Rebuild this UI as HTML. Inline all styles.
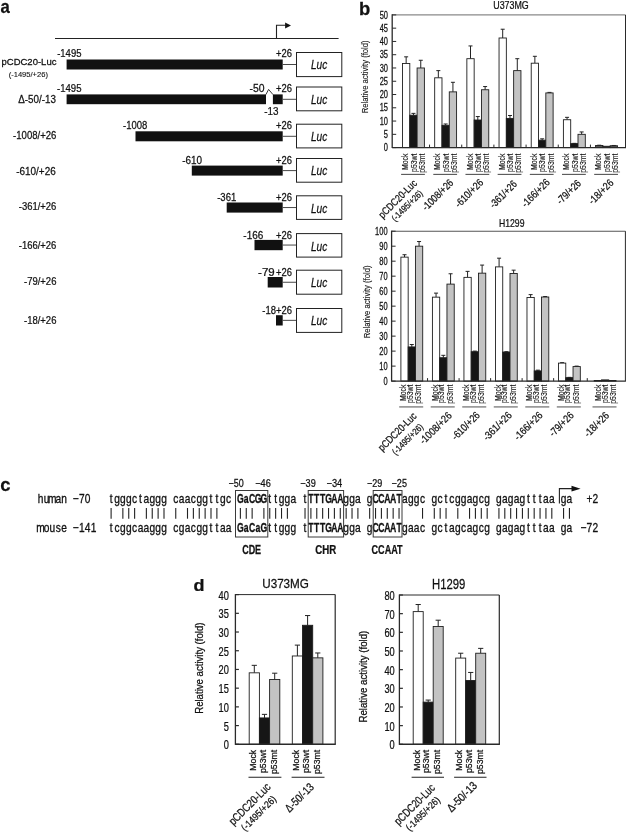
<!DOCTYPE html>
<html><head><meta charset="utf-8"><style>
html,body{margin:0;padding:0;background:#fff;}
svg{display:block;will-change:transform;filter:blur(0.35px);}
text{font-family:"Liberation Sans", sans-serif;fill:#111;stroke:#111;stroke-width:0.25px;}
</style></head><body>
<svg width="627" height="833" viewBox="0 0 627 833">
<rect width="627" height="833" fill="#fff"/>
<text transform="translate(0.50,12.60) scale(0.918,1)" font-size="18.2" font-weight="bold">a</text>
<text transform="translate(359.00,14.60) scale(1.046,1)" font-size="17.6" font-weight="bold">b</text>
<text transform="translate(0.26,490.60) scale(0.977,1)" font-size="18.9" font-weight="bold">c</text>
<text transform="translate(193.58,591.40) scale(1.112,1)" font-size="16.2" font-weight="bold">d</text>
<line x1="55.00" y1="38.50" x2="338.60" y2="38.50" stroke="#222" stroke-width="1.1"/>
<path d="M276.5,38.5 V25.3 H286.5" stroke="#222" stroke-width="1.1" fill="none"/>
<polygon points="285.10,22.40 291.00,25.40 285.10,28.60" fill="#111"/>
<rect x="66.60" y="59.50" width="216.10" height="10.00" fill="#111"/>
<line x1="282.70" y1="64.50" x2="296.50" y2="64.50" stroke="#333" stroke-width="0.9"/>
<rect x="296.50" y="52.50" width="45.30" height="24.10" fill="#fff" stroke="#222" stroke-width="1"/>
<text transform="translate(311.00,69.40) scale(0.815,1)" font-size="12.4" font-style="italic">Luc</text>
<text transform="translate(276.05,56.75) scale(0.833,1)" font-size="11.3">+26</text>
<text transform="translate(57.17,56.75) scale(0.841,1)" font-size="11.3">-1495</text>
<text transform="translate(1.48,64.70) scale(0.991,1)" font-size="9.6">pCDC20-Luc</text>
<text transform="translate(8.63,76.60) scale(0.998,1)" font-size="7.6" style="stroke-width:0.1px">(-1495/+26)</text>
<rect x="66.60" y="94.40" width="199.40" height="9.80" fill="#111"/>
<rect x="272.90" y="94.40" width="9.80" height="9.80" fill="#111"/>
<path d="M265.9,94.60 L268.6,89.40 L273.0,94.60" stroke="#222" stroke-width="0.9" fill="none"/>
<text transform="translate(249.53,92.10) scale(0.922,1)" font-size="11.3">-50</text>
<text transform="translate(264.16,115.40) scale(0.874,1)" font-size="11.3">-13</text>
<line x1="282.70" y1="99.30" x2="296.50" y2="99.30" stroke="#333" stroke-width="0.9"/>
<rect x="296.50" y="87.00" width="45.30" height="23.80" fill="#fff" stroke="#222" stroke-width="1"/>
<text transform="translate(311.00,103.90) scale(0.815,1)" font-size="12.4" font-style="italic">Luc</text>
<text transform="translate(276.05,92.00) scale(0.833,1)" font-size="11.3">+26</text>
<text transform="translate(56.97,92.00) scale(0.848,1)" font-size="11.3">-1495</text>
<text transform="translate(18.31,102.80) scale(0.892,1)" font-size="11.0">Δ-50/-13</text>
<rect x="135.50" y="131.30" width="147.20" height="10.00" fill="#111"/>
<line x1="282.70" y1="136.30" x2="296.50" y2="136.30" stroke="#333" stroke-width="0.9"/>
<rect x="296.50" y="124.20" width="45.30" height="23.70" fill="#fff" stroke="#222" stroke-width="1"/>
<text transform="translate(311.00,141.10) scale(0.815,1)" font-size="12.4" font-style="italic">Luc</text>
<text transform="translate(276.05,128.70) scale(0.833,1)" font-size="11.3">+26</text>
<text transform="translate(123.07,128.70) scale(0.842,1)" font-size="11.3">-1008</text>
<text transform="translate(13.07,139.10) scale(0.870,1)" font-size="11.0">-1008/+26</text>
<rect x="191.80" y="165.60" width="90.90" height="10.00" fill="#111"/>
<line x1="282.70" y1="170.60" x2="296.50" y2="170.60" stroke="#333" stroke-width="0.9"/>
<rect x="296.50" y="158.50" width="45.30" height="23.70" fill="#fff" stroke="#222" stroke-width="1"/>
<text transform="translate(311.00,175.40) scale(0.815,1)" font-size="12.4" font-style="italic">Luc</text>
<text transform="translate(276.05,164.00) scale(0.833,1)" font-size="11.3">+26</text>
<text transform="translate(182.25,164.00) scale(0.881,1)" font-size="11.3">-610</text>
<text transform="translate(16.25,174.90) scale(0.903,1)" font-size="11.0">-610/+26</text>
<rect x="226.70" y="202.50" width="56.00" height="10.10" fill="#111"/>
<line x1="282.70" y1="207.55" x2="296.50" y2="207.55" stroke="#333" stroke-width="0.9"/>
<rect x="296.50" y="195.80" width="45.30" height="23.60" fill="#fff" stroke="#222" stroke-width="1"/>
<text transform="translate(311.00,212.70) scale(0.815,1)" font-size="12.4" font-style="italic">Luc</text>
<text transform="translate(276.05,200.60) scale(0.833,1)" font-size="11.3">+26</text>
<text transform="translate(217.17,200.60) scale(0.844,1)" font-size="11.3">-361</text>
<text transform="translate(18.77,210.40) scale(0.861,1)" font-size="11.0">-361/+26</text>
<rect x="254.50" y="239.90" width="28.20" height="10.30" fill="#111"/>
<line x1="282.70" y1="245.05" x2="296.50" y2="245.05" stroke="#333" stroke-width="0.9"/>
<rect x="296.50" y="233.60" width="45.30" height="23.50" fill="#fff" stroke="#222" stroke-width="1"/>
<text transform="translate(311.00,250.50) scale(0.815,1)" font-size="12.4" font-style="italic">Luc</text>
<text transform="translate(276.05,238.70) scale(0.833,1)" font-size="11.3">+26</text>
<text transform="translate(243.35,238.70) scale(0.884,1)" font-size="11.3">-166</text>
<text transform="translate(18.77,249.00) scale(0.861,1)" font-size="11.0">-166/+26</text>
<rect x="267.70" y="277.00" width="15.00" height="10.50" fill="#111"/>
<line x1="282.70" y1="282.25" x2="296.50" y2="282.25" stroke="#333" stroke-width="0.9"/>
<rect x="296.50" y="270.20" width="45.30" height="24.00" fill="#fff" stroke="#222" stroke-width="1"/>
<text transform="translate(311.00,287.10) scale(0.815,1)" font-size="12.4" font-style="italic">Luc</text>
<text transform="translate(276.05,275.80) scale(0.833,1)" font-size="11.3">+26</text>
<text transform="translate(258.08,275.80) scale(1.019,1)" font-size="11.3">-79</text>
<text transform="translate(23.97,284.90) scale(0.863,1)" font-size="11.0">-79/+26</text>
<rect x="276.00" y="315.20" width="6.70" height="10.30" fill="#111"/>
<line x1="282.70" y1="320.35" x2="296.50" y2="320.35" stroke="#333" stroke-width="0.9"/>
<rect x="296.50" y="308.50" width="45.30" height="23.90" fill="#fff" stroke="#222" stroke-width="1"/>
<text transform="translate(311.00,325.40) scale(0.815,1)" font-size="12.4" font-style="italic">Luc</text>
<text transform="translate(262.27,314.30) scale(0.838,1)" font-size="11.3">-18+26</text>
<text transform="translate(23.97,324.30) scale(0.863,1)" font-size="11.0">-18/+26</text>
<line x1="406.15" y1="63.47" x2="406.15" y2="56.83" stroke="#222" stroke-width="1.0"/>
<line x1="404.15" y1="56.83" x2="408.15" y2="56.83" stroke="#222" stroke-width="1.0"/>
<rect x="402.50" y="63.47" width="7.30" height="84.13" fill="#ffffff" stroke="#1e1e1e" stroke-width="0.9"/>
<line x1="413.45" y1="115.22" x2="413.45" y2="113.36" stroke="#222" stroke-width="1.0"/>
<line x1="411.45" y1="113.36" x2="415.45" y2="113.36" stroke="#222" stroke-width="1.0"/>
<rect x="409.80" y="115.22" width="7.30" height="32.38" fill="#161616" stroke="#1e1e1e" stroke-width="0.9"/>
<line x1="420.75" y1="67.98" x2="420.75" y2="60.28" stroke="#222" stroke-width="1.0"/>
<line x1="418.75" y1="60.28" x2="422.75" y2="60.28" stroke="#222" stroke-width="1.0"/>
<rect x="417.10" y="67.98" width="7.30" height="79.62" fill="#c3c3c3" stroke="#1e1e1e" stroke-width="0.9"/>
<line x1="438.33" y1="77.80" x2="438.33" y2="70.63" stroke="#222" stroke-width="1.0"/>
<line x1="436.33" y1="70.63" x2="440.33" y2="70.63" stroke="#222" stroke-width="1.0"/>
<rect x="434.68" y="77.80" width="7.30" height="69.80" fill="#ffffff" stroke="#1e1e1e" stroke-width="0.9"/>
<line x1="445.63" y1="125.31" x2="445.63" y2="123.98" stroke="#222" stroke-width="1.0"/>
<line x1="443.63" y1="123.98" x2="447.63" y2="123.98" stroke="#222" stroke-width="1.0"/>
<rect x="441.98" y="125.31" width="7.30" height="22.29" fill="#161616" stroke="#1e1e1e" stroke-width="0.9"/>
<line x1="452.93" y1="91.87" x2="452.93" y2="82.31" stroke="#222" stroke-width="1.0"/>
<line x1="450.93" y1="82.31" x2="454.93" y2="82.31" stroke="#222" stroke-width="1.0"/>
<rect x="449.28" y="91.87" width="7.30" height="55.73" fill="#c3c3c3" stroke="#1e1e1e" stroke-width="0.9"/>
<line x1="470.51" y1="58.69" x2="470.51" y2="45.95" stroke="#222" stroke-width="1.0"/>
<line x1="468.51" y1="45.95" x2="472.51" y2="45.95" stroke="#222" stroke-width="1.0"/>
<rect x="466.86" y="58.69" width="7.30" height="88.91" fill="#ffffff" stroke="#1e1e1e" stroke-width="0.9"/>
<line x1="477.81" y1="120.00" x2="477.81" y2="116.55" stroke="#222" stroke-width="1.0"/>
<line x1="475.81" y1="116.55" x2="479.81" y2="116.55" stroke="#222" stroke-width="1.0"/>
<rect x="474.16" y="120.00" width="7.30" height="27.60" fill="#161616" stroke="#1e1e1e" stroke-width="0.9"/>
<line x1="485.11" y1="89.74" x2="485.11" y2="86.56" stroke="#222" stroke-width="1.0"/>
<line x1="483.11" y1="86.56" x2="487.11" y2="86.56" stroke="#222" stroke-width="1.0"/>
<rect x="481.46" y="89.74" width="7.30" height="57.86" fill="#c3c3c3" stroke="#1e1e1e" stroke-width="0.9"/>
<line x1="502.69" y1="37.99" x2="502.69" y2="29.23" stroke="#222" stroke-width="1.0"/>
<line x1="500.69" y1="29.23" x2="504.69" y2="29.23" stroke="#222" stroke-width="1.0"/>
<rect x="499.04" y="37.99" width="7.30" height="109.61" fill="#ffffff" stroke="#1e1e1e" stroke-width="0.9"/>
<line x1="509.99" y1="118.41" x2="509.99" y2="115.49" stroke="#222" stroke-width="1.0"/>
<line x1="507.99" y1="115.49" x2="511.99" y2="115.49" stroke="#222" stroke-width="1.0"/>
<rect x="506.34" y="118.41" width="7.30" height="29.19" fill="#161616" stroke="#1e1e1e" stroke-width="0.9"/>
<line x1="517.29" y1="70.63" x2="517.29" y2="58.69" stroke="#222" stroke-width="1.0"/>
<line x1="515.29" y1="58.69" x2="519.29" y2="58.69" stroke="#222" stroke-width="1.0"/>
<rect x="513.64" y="70.63" width="7.30" height="76.97" fill="#c3c3c3" stroke="#1e1e1e" stroke-width="0.9"/>
<line x1="534.87" y1="63.20" x2="534.87" y2="56.30" stroke="#222" stroke-width="1.0"/>
<line x1="532.87" y1="56.30" x2="536.87" y2="56.30" stroke="#222" stroke-width="1.0"/>
<rect x="531.22" y="63.20" width="7.30" height="84.40" fill="#ffffff" stroke="#1e1e1e" stroke-width="0.9"/>
<line x1="542.17" y1="140.17" x2="542.17" y2="138.84" stroke="#222" stroke-width="1.0"/>
<line x1="540.17" y1="138.84" x2="544.17" y2="138.84" stroke="#222" stroke-width="1.0"/>
<rect x="538.52" y="140.17" width="7.30" height="7.43" fill="#161616" stroke="#1e1e1e" stroke-width="0.9"/>
<line x1="549.47" y1="92.93" x2="549.47" y2="92.40" stroke="#222" stroke-width="1.0"/>
<line x1="547.47" y1="92.40" x2="551.47" y2="92.40" stroke="#222" stroke-width="1.0"/>
<rect x="545.82" y="92.93" width="7.30" height="54.67" fill="#c3c3c3" stroke="#1e1e1e" stroke-width="0.9"/>
<line x1="567.05" y1="119.73" x2="567.05" y2="117.34" stroke="#222" stroke-width="1.0"/>
<line x1="565.05" y1="117.34" x2="569.05" y2="117.34" stroke="#222" stroke-width="1.0"/>
<rect x="563.40" y="119.73" width="7.30" height="27.87" fill="#ffffff" stroke="#1e1e1e" stroke-width="0.9"/>
<line x1="574.35" y1="143.62" x2="574.35" y2="143.35" stroke="#222" stroke-width="1.0"/>
<line x1="572.35" y1="143.35" x2="576.35" y2="143.35" stroke="#222" stroke-width="1.0"/>
<rect x="570.70" y="143.62" width="7.30" height="3.98" fill="#161616" stroke="#1e1e1e" stroke-width="0.9"/>
<line x1="581.65" y1="134.33" x2="581.65" y2="131.94" stroke="#222" stroke-width="1.0"/>
<line x1="579.65" y1="131.94" x2="583.65" y2="131.94" stroke="#222" stroke-width="1.0"/>
<rect x="578.00" y="134.33" width="7.30" height="13.27" fill="#c3c3c3" stroke="#1e1e1e" stroke-width="0.9"/>
<line x1="599.23" y1="145.48" x2="599.23" y2="145.21" stroke="#222" stroke-width="1.0"/>
<line x1="597.23" y1="145.21" x2="601.23" y2="145.21" stroke="#222" stroke-width="1.0"/>
<rect x="595.58" y="145.48" width="7.30" height="2.12" fill="#555" stroke="#1e1e1e" stroke-width="0.9"/>
<rect x="602.88" y="146.27" width="7.30" height="1.33" fill="#161616" stroke="#1e1e1e" stroke-width="0.9"/>
<line x1="613.83" y1="145.74" x2="613.83" y2="145.48" stroke="#222" stroke-width="1.0"/>
<line x1="611.83" y1="145.48" x2="615.83" y2="145.48" stroke="#222" stroke-width="1.0"/>
<rect x="610.18" y="145.74" width="7.30" height="1.86" fill="#555" stroke="#1e1e1e" stroke-width="0.9"/>
<line x1="392.20" y1="14.90" x2="625.50" y2="14.90" stroke="#8a8a8a" stroke-width="1.3"/>
<line x1="625.50" y1="14.90" x2="625.50" y2="147.60" stroke="#2a2a2a" stroke-width="1.0"/>
<line x1="392.20" y1="14.25" x2="392.20" y2="148.10" stroke="#2a2a2a" stroke-width="1.3"/>
<line x1="392.20" y1="147.60" x2="626.00" y2="147.60" stroke="#2a2a2a" stroke-width="1.4"/>
<line x1="392.20" y1="147.60" x2="396.20" y2="147.60" stroke="#2a2a2a" stroke-width="1.0"/>
<text transform="translate(383.82,151.30) scale(0.750,1)" font-size="10">0</text>
<line x1="392.20" y1="134.33" x2="396.20" y2="134.33" stroke="#2a2a2a" stroke-width="1.0"/>
<text transform="translate(383.84,138.03) scale(0.750,1)" font-size="10">5</text>
<line x1="392.20" y1="121.06" x2="396.20" y2="121.06" stroke="#2a2a2a" stroke-width="1.0"/>
<text transform="translate(379.66,124.76) scale(0.750,1)" font-size="10">10</text>
<line x1="392.20" y1="107.79" x2="396.20" y2="107.79" stroke="#2a2a2a" stroke-width="1.0"/>
<text transform="translate(379.68,111.49) scale(0.750,1)" font-size="10">15</text>
<line x1="392.20" y1="94.52" x2="396.20" y2="94.52" stroke="#2a2a2a" stroke-width="1.0"/>
<text transform="translate(379.66,98.22) scale(0.750,1)" font-size="10">20</text>
<line x1="392.20" y1="81.25" x2="396.20" y2="81.25" stroke="#2a2a2a" stroke-width="1.0"/>
<text transform="translate(379.68,84.95) scale(0.750,1)" font-size="10">25</text>
<line x1="392.20" y1="67.98" x2="396.20" y2="67.98" stroke="#2a2a2a" stroke-width="1.0"/>
<text transform="translate(379.66,71.68) scale(0.750,1)" font-size="10">30</text>
<line x1="392.20" y1="54.71" x2="396.20" y2="54.71" stroke="#2a2a2a" stroke-width="1.0"/>
<text transform="translate(379.68,58.41) scale(0.750,1)" font-size="10">35</text>
<line x1="392.20" y1="41.44" x2="396.20" y2="41.44" stroke="#2a2a2a" stroke-width="1.0"/>
<text transform="translate(379.66,45.14) scale(0.750,1)" font-size="10">40</text>
<line x1="392.20" y1="28.17" x2="396.20" y2="28.17" stroke="#2a2a2a" stroke-width="1.0"/>
<text transform="translate(379.68,31.87) scale(0.750,1)" font-size="10">45</text>
<line x1="392.20" y1="14.90" x2="396.20" y2="14.90" stroke="#2a2a2a" stroke-width="1.0"/>
<text transform="translate(379.66,18.60) scale(0.750,1)" font-size="10">50</text>
<line x1="429.54" y1="147.60" x2="429.54" y2="144.60" stroke="#2a2a2a" stroke-width="1.0"/>
<line x1="461.72" y1="147.60" x2="461.72" y2="144.60" stroke="#2a2a2a" stroke-width="1.0"/>
<line x1="493.90" y1="147.60" x2="493.90" y2="144.60" stroke="#2a2a2a" stroke-width="1.0"/>
<line x1="526.08" y1="147.60" x2="526.08" y2="144.60" stroke="#2a2a2a" stroke-width="1.0"/>
<line x1="558.26" y1="147.60" x2="558.26" y2="144.60" stroke="#2a2a2a" stroke-width="1.0"/>
<line x1="590.44" y1="147.60" x2="590.44" y2="144.60" stroke="#2a2a2a" stroke-width="1.0"/>
<text transform="translate(493.21,8.90) scale(0.847,1)" font-size="10.5">U373MG</text>
<line x1="404.53" y1="257.13" x2="404.53" y2="254.73" stroke="#222" stroke-width="1.0"/>
<line x1="402.53" y1="254.73" x2="406.53" y2="254.73" stroke="#222" stroke-width="1.0"/>
<rect x="400.90" y="257.13" width="7.27" height="123.97" fill="#ffffff" stroke="#1e1e1e" stroke-width="0.9"/>
<line x1="411.80" y1="346.92" x2="411.80" y2="344.52" stroke="#222" stroke-width="1.0"/>
<line x1="409.80" y1="344.52" x2="413.80" y2="344.52" stroke="#222" stroke-width="1.0"/>
<rect x="408.17" y="346.92" width="7.27" height="34.18" fill="#161616" stroke="#1e1e1e" stroke-width="0.9"/>
<line x1="419.07" y1="246.19" x2="419.07" y2="241.54" stroke="#222" stroke-width="1.0"/>
<line x1="417.07" y1="241.54" x2="421.07" y2="241.54" stroke="#222" stroke-width="1.0"/>
<rect x="415.44" y="246.19" width="7.27" height="134.91" fill="#c3c3c3" stroke="#1e1e1e" stroke-width="0.9"/>
<line x1="436.05" y1="297.16" x2="436.05" y2="293.11" stroke="#222" stroke-width="1.0"/>
<line x1="434.05" y1="293.11" x2="438.05" y2="293.11" stroke="#222" stroke-width="1.0"/>
<rect x="432.42" y="297.16" width="7.27" height="83.94" fill="#ffffff" stroke="#1e1e1e" stroke-width="0.9"/>
<line x1="443.32" y1="357.72" x2="443.32" y2="355.32" stroke="#222" stroke-width="1.0"/>
<line x1="441.32" y1="355.32" x2="445.32" y2="355.32" stroke="#222" stroke-width="1.0"/>
<rect x="439.69" y="357.72" width="7.27" height="23.38" fill="#161616" stroke="#1e1e1e" stroke-width="0.9"/>
<line x1="450.59" y1="284.11" x2="450.59" y2="273.77" stroke="#222" stroke-width="1.0"/>
<line x1="448.59" y1="273.77" x2="452.59" y2="273.77" stroke="#222" stroke-width="1.0"/>
<rect x="446.96" y="284.11" width="7.27" height="96.99" fill="#c3c3c3" stroke="#1e1e1e" stroke-width="0.9"/>
<line x1="467.57" y1="277.37" x2="467.57" y2="271.37" stroke="#222" stroke-width="1.0"/>
<line x1="465.57" y1="271.37" x2="469.57" y2="271.37" stroke="#222" stroke-width="1.0"/>
<rect x="463.94" y="277.37" width="7.27" height="103.73" fill="#ffffff" stroke="#1e1e1e" stroke-width="0.9"/>
<line x1="474.84" y1="351.72" x2="474.84" y2="351.12" stroke="#222" stroke-width="1.0"/>
<line x1="472.84" y1="351.12" x2="476.84" y2="351.12" stroke="#222" stroke-width="1.0"/>
<rect x="471.21" y="351.72" width="7.27" height="29.38" fill="#161616" stroke="#1e1e1e" stroke-width="0.9"/>
<line x1="482.12" y1="273.17" x2="482.12" y2="265.08" stroke="#222" stroke-width="1.0"/>
<line x1="480.12" y1="265.08" x2="484.12" y2="265.08" stroke="#222" stroke-width="1.0"/>
<rect x="478.48" y="273.17" width="7.27" height="107.93" fill="#c3c3c3" stroke="#1e1e1e" stroke-width="0.9"/>
<line x1="499.09" y1="266.88" x2="499.09" y2="258.18" stroke="#222" stroke-width="1.0"/>
<line x1="497.09" y1="258.18" x2="501.09" y2="258.18" stroke="#222" stroke-width="1.0"/>
<rect x="495.46" y="266.88" width="7.27" height="114.22" fill="#ffffff" stroke="#1e1e1e" stroke-width="0.9"/>
<line x1="506.36" y1="352.02" x2="506.36" y2="351.72" stroke="#222" stroke-width="1.0"/>
<line x1="504.36" y1="351.72" x2="508.36" y2="351.72" stroke="#222" stroke-width="1.0"/>
<rect x="502.73" y="352.02" width="7.27" height="29.08" fill="#161616" stroke="#1e1e1e" stroke-width="0.9"/>
<line x1="513.63" y1="273.47" x2="513.63" y2="270.17" stroke="#222" stroke-width="1.0"/>
<line x1="511.63" y1="270.17" x2="515.63" y2="270.17" stroke="#222" stroke-width="1.0"/>
<rect x="510.00" y="273.47" width="7.27" height="107.63" fill="#c3c3c3" stroke="#1e1e1e" stroke-width="0.9"/>
<line x1="530.62" y1="297.46" x2="530.62" y2="294.61" stroke="#222" stroke-width="1.0"/>
<line x1="528.62" y1="294.61" x2="532.62" y2="294.61" stroke="#222" stroke-width="1.0"/>
<rect x="526.98" y="297.46" width="7.27" height="83.64" fill="#ffffff" stroke="#1e1e1e" stroke-width="0.9"/>
<line x1="537.88" y1="370.91" x2="537.88" y2="370.16" stroke="#222" stroke-width="1.0"/>
<line x1="535.88" y1="370.16" x2="539.88" y2="370.16" stroke="#222" stroke-width="1.0"/>
<rect x="534.25" y="370.91" width="7.27" height="10.19" fill="#161616" stroke="#1e1e1e" stroke-width="0.9"/>
<line x1="545.15" y1="297.01" x2="545.15" y2="296.56" stroke="#222" stroke-width="1.0"/>
<line x1="543.15" y1="296.56" x2="547.15" y2="296.56" stroke="#222" stroke-width="1.0"/>
<rect x="541.52" y="297.01" width="7.27" height="84.09" fill="#c3c3c3" stroke="#1e1e1e" stroke-width="0.9"/>
<line x1="562.13" y1="363.11" x2="562.13" y2="362.66" stroke="#222" stroke-width="1.0"/>
<line x1="560.13" y1="362.66" x2="564.13" y2="362.66" stroke="#222" stroke-width="1.0"/>
<rect x="558.50" y="363.11" width="7.27" height="17.99" fill="#ffffff" stroke="#1e1e1e" stroke-width="0.9"/>
<line x1="569.40" y1="377.65" x2="569.40" y2="377.35" stroke="#222" stroke-width="1.0"/>
<line x1="567.40" y1="377.35" x2="571.40" y2="377.35" stroke="#222" stroke-width="1.0"/>
<rect x="565.77" y="377.65" width="7.27" height="3.45" fill="#161616" stroke="#1e1e1e" stroke-width="0.9"/>
<line x1="576.67" y1="366.56" x2="576.67" y2="366.11" stroke="#222" stroke-width="1.0"/>
<line x1="574.67" y1="366.11" x2="578.67" y2="366.11" stroke="#222" stroke-width="1.0"/>
<rect x="573.04" y="366.56" width="7.27" height="14.54" fill="#c3c3c3" stroke="#1e1e1e" stroke-width="0.9"/>
<rect x="594.20" y="380.50" width="7.27" height="0.60" fill="#555" stroke="#1e1e1e" stroke-width="0.9"/>
<rect x="601.47" y="379.90" width="7.27" height="1.20" fill="#161616" stroke="#1e1e1e" stroke-width="0.9"/>
<rect x="608.74" y="380.50" width="7.27" height="0.60" fill="#555" stroke="#1e1e1e" stroke-width="0.9"/>
<line x1="391.60" y1="231.20" x2="625.40" y2="231.20" stroke="#555" stroke-width="1.1"/>
<line x1="625.40" y1="231.20" x2="625.40" y2="381.10" stroke="#2a2a2a" stroke-width="1.0"/>
<line x1="391.60" y1="230.65" x2="391.60" y2="381.60" stroke="#2a2a2a" stroke-width="1.3"/>
<line x1="391.60" y1="381.10" x2="625.90" y2="381.10" stroke="#2a2a2a" stroke-width="1.4"/>
<line x1="391.60" y1="381.10" x2="395.60" y2="381.10" stroke="#2a2a2a" stroke-width="1.0"/>
<text transform="translate(383.42,384.80) scale(0.750,1)" font-size="10">0</text>
<line x1="391.60" y1="366.11" x2="395.60" y2="366.11" stroke="#2a2a2a" stroke-width="1.0"/>
<text transform="translate(379.26,369.81) scale(0.750,1)" font-size="10">10</text>
<line x1="391.60" y1="351.12" x2="395.60" y2="351.12" stroke="#2a2a2a" stroke-width="1.0"/>
<text transform="translate(379.26,354.82) scale(0.750,1)" font-size="10">20</text>
<line x1="391.60" y1="336.13" x2="395.60" y2="336.13" stroke="#2a2a2a" stroke-width="1.0"/>
<text transform="translate(379.26,339.83) scale(0.750,1)" font-size="10">30</text>
<line x1="391.60" y1="321.14" x2="395.60" y2="321.14" stroke="#2a2a2a" stroke-width="1.0"/>
<text transform="translate(379.26,324.84) scale(0.750,1)" font-size="10">40</text>
<line x1="391.60" y1="306.15" x2="395.60" y2="306.15" stroke="#2a2a2a" stroke-width="1.0"/>
<text transform="translate(379.26,309.85) scale(0.750,1)" font-size="10">50</text>
<line x1="391.60" y1="291.16" x2="395.60" y2="291.16" stroke="#2a2a2a" stroke-width="1.0"/>
<text transform="translate(379.26,294.86) scale(0.750,1)" font-size="10">60</text>
<line x1="391.60" y1="276.17" x2="395.60" y2="276.17" stroke="#2a2a2a" stroke-width="1.0"/>
<text transform="translate(379.26,279.87) scale(0.750,1)" font-size="10">70</text>
<line x1="391.60" y1="261.18" x2="395.60" y2="261.18" stroke="#2a2a2a" stroke-width="1.0"/>
<text transform="translate(379.26,264.88) scale(0.750,1)" font-size="10">80</text>
<line x1="391.60" y1="246.19" x2="395.60" y2="246.19" stroke="#2a2a2a" stroke-width="1.0"/>
<text transform="translate(379.26,249.89) scale(0.750,1)" font-size="10">90</text>
<line x1="391.60" y1="231.20" x2="395.60" y2="231.20" stroke="#2a2a2a" stroke-width="1.0"/>
<text transform="translate(375.07,234.90) scale(0.750,1)" font-size="10">100</text>
<line x1="427.56" y1="381.10" x2="427.56" y2="378.10" stroke="#2a2a2a" stroke-width="1.0"/>
<line x1="459.08" y1="381.10" x2="459.08" y2="378.10" stroke="#2a2a2a" stroke-width="1.0"/>
<line x1="490.61" y1="381.10" x2="490.61" y2="378.10" stroke="#2a2a2a" stroke-width="1.0"/>
<line x1="522.12" y1="381.10" x2="522.12" y2="378.10" stroke="#2a2a2a" stroke-width="1.0"/>
<line x1="553.64" y1="381.10" x2="553.64" y2="378.10" stroke="#2a2a2a" stroke-width="1.0"/>
<line x1="587.25" y1="381.10" x2="587.25" y2="378.10" stroke="#2a2a2a" stroke-width="1.0"/>
<text transform="translate(498.99,227.30) scale(0.825,1)" font-size="10.5">H1299</text>
<text transform="translate(367.90,40.80) rotate(-90) translate(-72.53,0) scale(0.904,1)" font-size="8.5" style="stroke-width:0.1px">Relative activity (fold)</text>
<text transform="translate(369.60,265.80) rotate(-90) translate(-72.53,0) scale(0.883,1)" font-size="8.7" style="stroke-width:0.1px">Relative activity (fold)</text>
<text transform="translate(408.30,153.60) rotate(-90) translate(-16.46,0) scale(0.830,1)" font-size="8.3" style="stroke-width:0.1px">Mock</text>
<text transform="translate(416.65,153.60) rotate(-90) translate(-18.32,0) scale(0.830,1)" font-size="8.3" style="stroke-width:0.1px">p53wt</text>
<text transform="translate(424.95,153.60) rotate(-90) translate(-19.10,0) scale(0.830,1)" font-size="8.3" style="stroke-width:0.1px">p53mt</text>
<line x1="401.10" y1="174.40" x2="424.90" y2="174.40" stroke="#555" stroke-width="1.1"/>
<text transform="translate(440.48,153.60) rotate(-90) translate(-16.46,0) scale(0.830,1)" font-size="8.3" style="stroke-width:0.1px">Mock</text>
<text transform="translate(448.83,153.60) rotate(-90) translate(-18.32,0) scale(0.830,1)" font-size="8.3" style="stroke-width:0.1px">p53wt</text>
<text transform="translate(457.13,153.60) rotate(-90) translate(-19.10,0) scale(0.830,1)" font-size="8.3" style="stroke-width:0.1px">p53mt</text>
<line x1="433.28" y1="174.40" x2="457.08" y2="174.40" stroke="#555" stroke-width="1.1"/>
<text transform="translate(472.66,153.60) rotate(-90) translate(-16.46,0) scale(0.830,1)" font-size="8.3" style="stroke-width:0.1px">Mock</text>
<text transform="translate(481.01,153.60) rotate(-90) translate(-18.32,0) scale(0.830,1)" font-size="8.3" style="stroke-width:0.1px">p53wt</text>
<text transform="translate(489.31,153.60) rotate(-90) translate(-19.10,0) scale(0.830,1)" font-size="8.3" style="stroke-width:0.1px">p53mt</text>
<line x1="465.46" y1="174.40" x2="489.26" y2="174.40" stroke="#555" stroke-width="1.1"/>
<text transform="translate(504.84,153.60) rotate(-90) translate(-16.46,0) scale(0.830,1)" font-size="8.3" style="stroke-width:0.1px">Mock</text>
<text transform="translate(513.19,153.60) rotate(-90) translate(-18.32,0) scale(0.830,1)" font-size="8.3" style="stroke-width:0.1px">p53wt</text>
<text transform="translate(521.49,153.60) rotate(-90) translate(-19.10,0) scale(0.830,1)" font-size="8.3" style="stroke-width:0.1px">p53mt</text>
<line x1="497.64" y1="174.40" x2="521.44" y2="174.40" stroke="#555" stroke-width="1.1"/>
<text transform="translate(537.02,153.60) rotate(-90) translate(-16.46,0) scale(0.830,1)" font-size="8.3" style="stroke-width:0.1px">Mock</text>
<text transform="translate(545.37,153.60) rotate(-90) translate(-18.32,0) scale(0.830,1)" font-size="8.3" style="stroke-width:0.1px">p53wt</text>
<text transform="translate(553.67,153.60) rotate(-90) translate(-19.10,0) scale(0.830,1)" font-size="8.3" style="stroke-width:0.1px">p53mt</text>
<line x1="529.82" y1="174.40" x2="553.62" y2="174.40" stroke="#555" stroke-width="1.1"/>
<text transform="translate(569.20,153.60) rotate(-90) translate(-16.46,0) scale(0.830,1)" font-size="8.3" style="stroke-width:0.1px">Mock</text>
<text transform="translate(577.55,153.60) rotate(-90) translate(-18.32,0) scale(0.830,1)" font-size="8.3" style="stroke-width:0.1px">p53wt</text>
<text transform="translate(585.85,153.60) rotate(-90) translate(-19.10,0) scale(0.830,1)" font-size="8.3" style="stroke-width:0.1px">p53mt</text>
<line x1="562.00" y1="174.40" x2="585.80" y2="174.40" stroke="#555" stroke-width="1.1"/>
<text transform="translate(601.38,153.60) rotate(-90) translate(-16.46,0) scale(0.830,1)" font-size="8.3" style="stroke-width:0.1px">Mock</text>
<text transform="translate(609.73,153.60) rotate(-90) translate(-18.32,0) scale(0.830,1)" font-size="8.3" style="stroke-width:0.1px">p53wt</text>
<text transform="translate(618.03,153.60) rotate(-90) translate(-19.10,0) scale(0.830,1)" font-size="8.3" style="stroke-width:0.1px">p53mt</text>
<line x1="594.18" y1="174.40" x2="617.98" y2="174.40" stroke="#555" stroke-width="1.1"/>
<text transform="translate(406.03,384.60) rotate(-90) translate(-16.46,0) scale(0.830,1)" font-size="8.3" style="stroke-width:0.1px">Mock</text>
<text transform="translate(412.70,384.60) rotate(-90) translate(-18.32,0) scale(0.830,1)" font-size="8.3" style="stroke-width:0.1px">p53wt</text>
<text transform="translate(421.38,384.60) rotate(-90) translate(-19.10,0) scale(0.830,1)" font-size="8.3" style="stroke-width:0.1px">p53mt</text>
<line x1="399.20" y1="406.90" x2="423.21" y2="406.90" stroke="#8a8a8a" stroke-width="1.5"/>
<text transform="translate(437.55,384.60) rotate(-90) translate(-16.46,0) scale(0.830,1)" font-size="8.3" style="stroke-width:0.1px">Mock</text>
<text transform="translate(444.22,384.60) rotate(-90) translate(-18.32,0) scale(0.830,1)" font-size="8.3" style="stroke-width:0.1px">p53wt</text>
<text transform="translate(452.89,384.60) rotate(-90) translate(-19.10,0) scale(0.830,1)" font-size="8.3" style="stroke-width:0.1px">p53mt</text>
<line x1="430.72" y1="406.90" x2="454.73" y2="406.90" stroke="#8a8a8a" stroke-width="1.5"/>
<text transform="translate(469.07,384.60) rotate(-90) translate(-16.46,0) scale(0.830,1)" font-size="8.3" style="stroke-width:0.1px">Mock</text>
<text transform="translate(475.74,384.60) rotate(-90) translate(-18.32,0) scale(0.830,1)" font-size="8.3" style="stroke-width:0.1px">p53wt</text>
<text transform="translate(484.42,384.60) rotate(-90) translate(-19.10,0) scale(0.830,1)" font-size="8.3" style="stroke-width:0.1px">p53mt</text>
<line x1="462.24" y1="406.90" x2="486.25" y2="406.90" stroke="#8a8a8a" stroke-width="1.5"/>
<text transform="translate(500.59,384.60) rotate(-90) translate(-16.46,0) scale(0.830,1)" font-size="8.3" style="stroke-width:0.1px">Mock</text>
<text transform="translate(507.26,384.60) rotate(-90) translate(-18.32,0) scale(0.830,1)" font-size="8.3" style="stroke-width:0.1px">p53wt</text>
<text transform="translate(515.93,384.60) rotate(-90) translate(-19.10,0) scale(0.830,1)" font-size="8.3" style="stroke-width:0.1px">p53mt</text>
<line x1="493.76" y1="406.90" x2="517.77" y2="406.90" stroke="#8a8a8a" stroke-width="1.5"/>
<text transform="translate(532.12,384.60) rotate(-90) translate(-16.46,0) scale(0.830,1)" font-size="8.3" style="stroke-width:0.1px">Mock</text>
<text transform="translate(538.78,384.60) rotate(-90) translate(-18.32,0) scale(0.830,1)" font-size="8.3" style="stroke-width:0.1px">p53wt</text>
<text transform="translate(547.45,384.60) rotate(-90) translate(-19.10,0) scale(0.830,1)" font-size="8.3" style="stroke-width:0.1px">p53mt</text>
<line x1="525.28" y1="406.90" x2="549.29" y2="406.90" stroke="#8a8a8a" stroke-width="1.5"/>
<text transform="translate(563.63,384.60) rotate(-90) translate(-16.46,0) scale(0.830,1)" font-size="8.3" style="stroke-width:0.1px">Mock</text>
<text transform="translate(570.30,384.60) rotate(-90) translate(-18.32,0) scale(0.830,1)" font-size="8.3" style="stroke-width:0.1px">p53wt</text>
<text transform="translate(578.97,384.60) rotate(-90) translate(-19.10,0) scale(0.830,1)" font-size="8.3" style="stroke-width:0.1px">p53mt</text>
<line x1="556.80" y1="406.90" x2="580.81" y2="406.90" stroke="#8a8a8a" stroke-width="1.5"/>
<text transform="translate(600.84,384.60) rotate(-90) translate(-16.46,0) scale(0.830,1)" font-size="8.3" style="stroke-width:0.1px">Mock</text>
<text transform="translate(607.50,384.60) rotate(-90) translate(-18.32,0) scale(0.830,1)" font-size="8.3" style="stroke-width:0.1px">p53wt</text>
<text transform="translate(616.17,384.60) rotate(-90) translate(-19.10,0) scale(0.830,1)" font-size="8.3" style="stroke-width:0.1px">p53mt</text>
<line x1="592.50" y1="406.90" x2="616.51" y2="406.90" stroke="#8a8a8a" stroke-width="1.5"/>
<text transform="translate(417.59,184.07) rotate(-45) translate(-49.25,0) scale(0.815,1)" font-size="10.5">pCDC20-Luc</text>
<text transform="translate(453.79,183.69) rotate(-45) translate(-39.03,0) scale(0.828,1)" font-size="10.5">-1008/+26</text>
<text transform="translate(483.81,183.38) rotate(-45) translate(-35.03,0) scale(0.848,1)" font-size="10.5">-610/+26</text>
<text transform="translate(517.38,185.00) rotate(-45) translate(-33.46,0) scale(0.810,1)" font-size="10.5">-361/+26</text>
<text transform="translate(550.30,183.28) rotate(-45) translate(-34.81,0) scale(0.843,1)" font-size="10.5">-166/+26</text>
<text transform="translate(581.47,184.21) rotate(-45) translate(-29.26,0) scale(0.826,1)" font-size="10.5">-79/+26</text>
<text transform="translate(613.89,183.69) rotate(-45) translate(-30.20,0) scale(0.852,1)" font-size="10.5">-18/+26</text>
<text transform="translate(417.19,416.97) rotate(-45) translate(-49.32,0) scale(0.817,1)" font-size="10.5">pCDC20-Luc</text>
<text transform="translate(452.11,416.48) rotate(-45) translate(-40.12,0) scale(0.852,1)" font-size="10.5">-1008/+26</text>
<text transform="translate(480.30,416.19) rotate(-45) translate(-34.59,0) scale(0.838,1)" font-size="10.5">-610/+26</text>
<text transform="translate(512.21,416.17) rotate(-45) translate(-35.47,0) scale(0.859,1)" font-size="10.5">-361/+26</text>
<text transform="translate(542.90,416.18) rotate(-45) translate(-34.95,0) scale(0.847,1)" font-size="10.5">-166/+26</text>
<text transform="translate(574.08,416.40) rotate(-45) translate(-29.57,0) scale(0.835,1)" font-size="10.5">-79/+26</text>
<text transform="translate(609.59,416.39) rotate(-45) translate(-30.20,0) scale(0.852,1)" font-size="10.5">-18/+26</text>
<text transform="translate(422.98,194.13) rotate(-45) translate(-39.34,0) scale(0.851,1)" font-size="9.0">(-1495/+26)</text>
<text transform="translate(423.48,427.63) rotate(-45) translate(-39.34,0) scale(0.851,1)" font-size="9.0">(-1495/+26)</text>
<line x1="254.30" y1="672.82" x2="254.30" y2="665.33" stroke="#222" stroke-width="1.0"/>
<line x1="251.70" y1="665.33" x2="256.90" y2="665.33" stroke="#222" stroke-width="1.0"/>
<rect x="249.20" y="672.82" width="10.20" height="71.48" fill="#ffffff" stroke="#1e1e1e" stroke-width="0.9"/>
<line x1="264.50" y1="717.92" x2="264.50" y2="714.36" stroke="#222" stroke-width="1.0"/>
<line x1="261.90" y1="714.36" x2="267.10" y2="714.36" stroke="#222" stroke-width="1.0"/>
<rect x="259.40" y="717.92" width="10.20" height="26.38" fill="#161616" stroke="#1e1e1e" stroke-width="0.9"/>
<line x1="274.70" y1="679.55" x2="274.70" y2="673.19" stroke="#222" stroke-width="1.0"/>
<line x1="272.10" y1="673.19" x2="277.30" y2="673.19" stroke="#222" stroke-width="1.0"/>
<rect x="269.60" y="679.55" width="10.20" height="64.75" fill="#c3c3c3" stroke="#1e1e1e" stroke-width="0.9"/>
<line x1="297.40" y1="655.98" x2="297.40" y2="645.12" stroke="#222" stroke-width="1.0"/>
<line x1="294.80" y1="645.12" x2="300.00" y2="645.12" stroke="#222" stroke-width="1.0"/>
<rect x="292.30" y="655.98" width="10.20" height="88.32" fill="#ffffff" stroke="#1e1e1e" stroke-width="0.9"/>
<line x1="307.60" y1="625.29" x2="307.60" y2="615.56" stroke="#222" stroke-width="1.0"/>
<line x1="305.00" y1="615.56" x2="310.20" y2="615.56" stroke="#222" stroke-width="1.0"/>
<rect x="302.50" y="625.29" width="10.20" height="119.01" fill="#161616" stroke="#1e1e1e" stroke-width="0.9"/>
<line x1="317.80" y1="657.85" x2="317.80" y2="652.98" stroke="#222" stroke-width="1.0"/>
<line x1="315.20" y1="652.98" x2="320.40" y2="652.98" stroke="#222" stroke-width="1.0"/>
<rect x="312.70" y="657.85" width="10.20" height="86.45" fill="#c3c3c3" stroke="#1e1e1e" stroke-width="0.9"/>
<line x1="235.40" y1="594.60" x2="335.20" y2="594.60" stroke="#2a2a2a" stroke-width="1.0"/>
<line x1="335.20" y1="594.60" x2="335.20" y2="744.30" stroke="#2a2a2a" stroke-width="1.2"/>
<line x1="235.40" y1="594.10" x2="235.40" y2="744.90" stroke="#2a2a2a" stroke-width="1.3"/>
<line x1="235.40" y1="744.30" x2="335.80" y2="744.30" stroke="#2a2a2a" stroke-width="1.4"/>
<line x1="235.40" y1="744.30" x2="238.90" y2="744.30" stroke="#2a2a2a" stroke-width="1.2"/>
<text transform="translate(223.72,749.34) scale(0.770,1)" font-size="12.0">0</text>
<line x1="235.40" y1="725.59" x2="238.90" y2="725.59" stroke="#2a2a2a" stroke-width="1.2"/>
<text transform="translate(223.74,730.63) scale(0.770,1)" font-size="12.0">5</text>
<line x1="235.40" y1="706.88" x2="238.90" y2="706.88" stroke="#2a2a2a" stroke-width="1.2"/>
<text transform="translate(218.59,711.91) scale(0.770,1)" font-size="12.0">10</text>
<line x1="235.40" y1="688.16" x2="238.90" y2="688.16" stroke="#2a2a2a" stroke-width="1.2"/>
<text transform="translate(218.61,693.20) scale(0.770,1)" font-size="12.0">15</text>
<line x1="235.40" y1="669.45" x2="238.90" y2="669.45" stroke="#2a2a2a" stroke-width="1.2"/>
<text transform="translate(218.59,674.49) scale(0.770,1)" font-size="12.0">20</text>
<line x1="235.40" y1="650.74" x2="238.90" y2="650.74" stroke="#2a2a2a" stroke-width="1.2"/>
<text transform="translate(218.61,655.78) scale(0.770,1)" font-size="12.0">25</text>
<line x1="235.40" y1="632.02" x2="238.90" y2="632.02" stroke="#2a2a2a" stroke-width="1.2"/>
<text transform="translate(218.59,637.06) scale(0.770,1)" font-size="12.0">30</text>
<line x1="235.40" y1="613.31" x2="238.90" y2="613.31" stroke="#2a2a2a" stroke-width="1.2"/>
<text transform="translate(218.61,618.35) scale(0.770,1)" font-size="12.0">35</text>
<line x1="235.40" y1="594.60" x2="238.90" y2="594.60" stroke="#2a2a2a" stroke-width="1.2"/>
<text transform="translate(218.59,599.64) scale(0.770,1)" font-size="12.0">40</text>
<text transform="translate(262.19,588.40) scale(0.873,1)" font-size="13.4">U373MG</text>
<line x1="418.20" y1="611.61" x2="418.20" y2="604.52" stroke="#222" stroke-width="1.0"/>
<line x1="415.60" y1="604.52" x2="420.80" y2="604.52" stroke="#222" stroke-width="1.0"/>
<rect x="413.20" y="611.61" width="10.00" height="132.69" fill="#ffffff" stroke="#1e1e1e" stroke-width="0.9"/>
<line x1="428.20" y1="702.12" x2="428.20" y2="700.07" stroke="#222" stroke-width="1.0"/>
<line x1="425.60" y1="700.07" x2="430.80" y2="700.07" stroke="#222" stroke-width="1.0"/>
<rect x="423.20" y="702.12" width="10.00" height="42.18" fill="#161616" stroke="#1e1e1e" stroke-width="0.9"/>
<line x1="438.20" y1="626.54" x2="438.20" y2="620.19" stroke="#222" stroke-width="1.0"/>
<line x1="435.60" y1="620.19" x2="440.80" y2="620.19" stroke="#222" stroke-width="1.0"/>
<rect x="433.20" y="626.54" width="10.00" height="117.76" fill="#c3c3c3" stroke="#1e1e1e" stroke-width="0.9"/>
<line x1="460.70" y1="658.08" x2="460.70" y2="653.23" stroke="#222" stroke-width="1.0"/>
<line x1="458.10" y1="653.23" x2="463.30" y2="653.23" stroke="#222" stroke-width="1.0"/>
<rect x="455.70" y="658.08" width="10.00" height="86.22" fill="#ffffff" stroke="#1e1e1e" stroke-width="0.9"/>
<line x1="470.70" y1="680.47" x2="470.70" y2="672.45" stroke="#222" stroke-width="1.0"/>
<line x1="468.10" y1="672.45" x2="473.30" y2="672.45" stroke="#222" stroke-width="1.0"/>
<rect x="465.70" y="680.47" width="10.00" height="63.83" fill="#161616" stroke="#1e1e1e" stroke-width="0.9"/>
<line x1="480.70" y1="653.23" x2="480.70" y2="648.37" stroke="#222" stroke-width="1.0"/>
<line x1="478.10" y1="648.37" x2="483.30" y2="648.37" stroke="#222" stroke-width="1.0"/>
<rect x="475.70" y="653.23" width="10.00" height="91.07" fill="#c3c3c3" stroke="#1e1e1e" stroke-width="0.9"/>
<line x1="399.40" y1="595.00" x2="499.30" y2="595.00" stroke="#2a2a2a" stroke-width="1.0"/>
<line x1="499.30" y1="595.00" x2="499.30" y2="744.30" stroke="#2a2a2a" stroke-width="1.2"/>
<line x1="399.40" y1="594.50" x2="399.40" y2="744.90" stroke="#2a2a2a" stroke-width="1.3"/>
<line x1="399.40" y1="744.30" x2="499.90" y2="744.30" stroke="#2a2a2a" stroke-width="1.4"/>
<line x1="399.40" y1="744.30" x2="402.90" y2="744.30" stroke="#2a2a2a" stroke-width="1.2"/>
<text transform="translate(389.52,749.34) scale(0.770,1)" font-size="12.0">0</text>
<line x1="399.40" y1="725.64" x2="402.90" y2="725.64" stroke="#2a2a2a" stroke-width="1.2"/>
<text transform="translate(384.39,730.68) scale(0.770,1)" font-size="12.0">10</text>
<line x1="399.40" y1="706.97" x2="402.90" y2="706.97" stroke="#2a2a2a" stroke-width="1.2"/>
<text transform="translate(384.39,712.01) scale(0.770,1)" font-size="12.0">20</text>
<line x1="399.40" y1="688.31" x2="402.90" y2="688.31" stroke="#2a2a2a" stroke-width="1.2"/>
<text transform="translate(384.39,693.35) scale(0.770,1)" font-size="12.0">30</text>
<line x1="399.40" y1="669.65" x2="402.90" y2="669.65" stroke="#2a2a2a" stroke-width="1.2"/>
<text transform="translate(384.39,674.69) scale(0.770,1)" font-size="12.0">40</text>
<line x1="399.40" y1="650.99" x2="402.90" y2="650.99" stroke="#2a2a2a" stroke-width="1.2"/>
<text transform="translate(384.39,656.03) scale(0.770,1)" font-size="12.0">50</text>
<line x1="399.40" y1="632.33" x2="402.90" y2="632.33" stroke="#2a2a2a" stroke-width="1.2"/>
<text transform="translate(384.39,637.37) scale(0.770,1)" font-size="12.0">60</text>
<line x1="399.40" y1="613.66" x2="402.90" y2="613.66" stroke="#2a2a2a" stroke-width="1.2"/>
<text transform="translate(384.39,618.70) scale(0.770,1)" font-size="12.0">70</text>
<line x1="399.40" y1="595.00" x2="402.90" y2="595.00" stroke="#2a2a2a" stroke-width="1.2"/>
<text transform="translate(384.39,600.04) scale(0.770,1)" font-size="12.0">80</text>
<text transform="translate(432.07,588.80) scale(0.809,1)" font-size="14">H1299</text>
<text transform="translate(202.50,623.00) rotate(-90) translate(-90.79,0) scale(0.962,1)" font-size="10">Relative activity (fold)</text>
<text transform="translate(366.70,631.20) rotate(-90) translate(-91.30,0) scale(0.967,1)" font-size="10">Relative activity (fold)</text>
<text transform="translate(255.60,749.80) rotate(-90) translate(-20.85,0) scale(0.890,1)" font-size="9.8">Mock</text>
<text transform="translate(265.60,749.80) rotate(-90) translate(-23.20,0) scale(0.890,1)" font-size="9.8">p53wt</text>
<text transform="translate(276.70,749.80) rotate(-90) translate(-24.18,0) scale(0.890,1)" font-size="9.8">p53mt</text>
<line x1="248.50" y1="777.30" x2="281.40" y2="777.30" stroke="#222" stroke-width="1.1"/>
<text transform="translate(298.70,749.80) rotate(-90) translate(-20.85,0) scale(0.890,1)" font-size="9.8">Mock</text>
<text transform="translate(308.70,749.80) rotate(-90) translate(-23.20,0) scale(0.890,1)" font-size="9.8">p53wt</text>
<text transform="translate(319.80,749.80) rotate(-90) translate(-24.18,0) scale(0.890,1)" font-size="9.8">p53mt</text>
<line x1="291.60" y1="777.30" x2="324.50" y2="777.30" stroke="#222" stroke-width="1.1"/>
<text transform="translate(419.80,749.80) rotate(-90) translate(-20.85,0) scale(0.890,1)" font-size="9.8">Mock</text>
<text transform="translate(429.40,749.80) rotate(-90) translate(-23.20,0) scale(0.890,1)" font-size="9.8">p53wt</text>
<text transform="translate(440.00,749.80) rotate(-90) translate(-24.18,0) scale(0.890,1)" font-size="9.8">p53mt</text>
<line x1="411.60" y1="777.20" x2="444.00" y2="777.20" stroke="#222" stroke-width="1.1"/>
<text transform="translate(462.30,749.80) rotate(-90) translate(-20.85,0) scale(0.890,1)" font-size="9.8">Mock</text>
<text transform="translate(471.90,749.80) rotate(-90) translate(-23.20,0) scale(0.890,1)" font-size="9.8">p53wt</text>
<text transform="translate(482.50,749.80) rotate(-90) translate(-24.18,0) scale(0.890,1)" font-size="9.8">p53mt</text>
<line x1="454.10" y1="777.20" x2="486.50" y2="777.20" stroke="#222" stroke-width="1.1"/>
<text transform="translate(271.25,787.99) rotate(-45) translate(-53.56,0) scale(0.810,1)" font-size="11.5">pCDC20-Luc</text>
<text transform="translate(276.50,800.10) rotate(-45) translate(-44.41,0) scale(0.884,1)" font-size="9.775">(-1495/+26)</text>
<text transform="translate(314.39,788.09) rotate(-45) translate(-35.11,0) scale(0.805,1)" font-size="11.5">Δ-50/-13</text>
<text transform="translate(435.64,788.80) rotate(-45) translate(-52.18,0) scale(0.789,1)" font-size="11.5">pCDC20-Luc</text>
<text transform="translate(440.27,801.03) rotate(-45) translate(-43.18,0) scale(0.860,1)" font-size="9.775">(-1495/+26)</text>
<text transform="translate(477.62,786.57) rotate(-45) translate(-36.85,0) scale(0.845,1)" font-size="11.5">Δ-50/-13</text>
<text transform="translate(0,503.0) scale(0.87,1.08)" font-size="11.7" font-weight="normal" font-family='"Liberation Mono", monospace' text-anchor="middle" style="stroke-width:0.3px"><tspan x="46.67">h</tspan><tspan x="53.42">u</tspan><tspan x="60.17">m</tspan><tspan x="66.93">a</tspan><tspan x="73.68">n</tspan><tspan x="87.19">−</tspan><tspan x="93.94">7</tspan><tspan x="100.70">0</tspan><tspan x="127.71">t</tspan><tspan x="134.47">g</tspan><tspan x="141.22">g</tspan><tspan x="147.98">g</tspan><tspan x="154.73">c</tspan><tspan x="161.49">t</tspan><tspan x="168.24">a</tspan><tspan x="174.99">g</tspan><tspan x="181.75">g</tspan><tspan x="188.50">g</tspan><tspan x="202.01">c</tspan><tspan x="208.76">a</tspan><tspan x="215.52">a</tspan><tspan x="222.27">c</tspan><tspan x="229.03">g</tspan><tspan x="235.78">g</tspan><tspan x="242.53">t</tspan><tspan x="249.29">t</tspan><tspan x="256.04">g</tspan><tspan x="262.80">c</tspan><tspan x="310.07">t</tspan><tspan x="316.83">t</tspan><tspan x="323.58">g</tspan><tspan x="330.34">g</tspan><tspan x="337.09">a</tspan><tspan x="350.60">t</tspan><tspan x="397.88">g</tspan><tspan x="404.63">g</tspan><tspan x="411.38">a</tspan><tspan x="424.89">g</tspan><tspan x="465.42">a</tspan><tspan x="472.17">g</tspan><tspan x="478.92">g</tspan><tspan x="485.68">c</tspan><tspan x="499.19">g</tspan><tspan x="505.94">c</tspan><tspan x="512.69">t</tspan><tspan x="519.45">c</tspan><tspan x="526.20">g</tspan><tspan x="532.96">g</tspan><tspan x="539.71">a</tspan><tspan x="546.46">g</tspan><tspan x="553.22">c</tspan><tspan x="559.97">g</tspan><tspan x="573.48">g</tspan><tspan x="580.23">a</tspan><tspan x="586.99">g</tspan><tspan x="593.74">a</tspan><tspan x="600.50">g</tspan><tspan x="607.25">t</tspan><tspan x="614.00">t</tspan><tspan x="620.76">t</tspan><tspan x="627.51">a</tspan><tspan x="634.27">a</tspan><tspan x="647.77">g</tspan><tspan x="654.53">a</tspan><tspan x="677.43">+</tspan><tspan x="684.19">2</tspan></text>
<text transform="translate(0,503.0) scale(0.74,1.08)" font-size="11.7" font-weight="bold" font-family='"Liberation Mono", monospace' text-anchor="middle" style="stroke-width:0.3px"><tspan x="324.84">G</tspan><tspan x="332.78">a</tspan><tspan x="340.72">C</tspan><tspan x="348.66">G</tspan><tspan x="356.61">G</tspan><tspan x="420.13">T</tspan><tspan x="428.07">T</tspan><tspan x="436.01">T</tspan><tspan x="443.95">G</tspan><tspan x="451.89">A</tspan><tspan x="459.83">A</tspan><tspan x="507.48">C</tspan><tspan x="515.42">C</tspan><tspan x="523.36">A</tspan><tspan x="531.30">A</tspan><tspan x="539.24">T</tspan></text>
<text transform="translate(0,531.6) scale(0.87,1.08)" font-size="11.7" font-weight="normal" font-family='"Liberation Mono", monospace' text-anchor="middle" style="stroke-width:0.3px"><tspan x="46.67">m</tspan><tspan x="53.42">o</tspan><tspan x="60.17">u</tspan><tspan x="66.93">s</tspan><tspan x="73.68">e</tspan><tspan x="87.19">−</tspan><tspan x="93.94">1</tspan><tspan x="100.70">4</tspan><tspan x="107.45">1</tspan><tspan x="127.71">t</tspan><tspan x="134.47">c</tspan><tspan x="141.22">g</tspan><tspan x="147.98">g</tspan><tspan x="154.73">c</tspan><tspan x="161.49">a</tspan><tspan x="168.24">a</tspan><tspan x="174.99">g</tspan><tspan x="181.75">g</tspan><tspan x="188.50">g</tspan><tspan x="202.01">c</tspan><tspan x="208.76">g</tspan><tspan x="215.52">a</tspan><tspan x="222.27">c</tspan><tspan x="229.03">g</tspan><tspan x="235.78">g</tspan><tspan x="242.53">t</tspan><tspan x="249.29">t</tspan><tspan x="256.04">a</tspan><tspan x="262.80">a</tspan><tspan x="310.07">t</tspan><tspan x="316.83">t</tspan><tspan x="323.58">g</tspan><tspan x="330.34">g</tspan><tspan x="337.09">g</tspan><tspan x="350.60">t</tspan><tspan x="397.88">g</tspan><tspan x="404.63">g</tspan><tspan x="411.38">a</tspan><tspan x="424.89">g</tspan><tspan x="465.42">g</tspan><tspan x="472.17">a</tspan><tspan x="478.92">a</tspan><tspan x="485.68">c</tspan><tspan x="499.19">g</tspan><tspan x="505.94">c</tspan><tspan x="512.69">t</tspan><tspan x="519.45">a</tspan><tspan x="526.20">g</tspan><tspan x="532.96">c</tspan><tspan x="539.71">a</tspan><tspan x="546.46">g</tspan><tspan x="553.22">c</tspan><tspan x="559.97">g</tspan><tspan x="573.48">g</tspan><tspan x="580.23">a</tspan><tspan x="586.99">g</tspan><tspan x="593.74">a</tspan><tspan x="600.50">g</tspan><tspan x="607.25">t</tspan><tspan x="614.00">t</tspan><tspan x="620.76">t</tspan><tspan x="627.51">a</tspan><tspan x="634.27">a</tspan><tspan x="647.77">g</tspan><tspan x="654.53">a</tspan><tspan x="670.68">−</tspan><tspan x="677.43">7</tspan><tspan x="684.19">2</tspan></text>
<text transform="translate(0,531.6) scale(0.74,1.08)" font-size="11.7" font-weight="bold" font-family='"Liberation Mono", monospace' text-anchor="middle" style="stroke-width:0.3px"><tspan x="324.84">G</tspan><tspan x="332.78">a</tspan><tspan x="340.72">C</tspan><tspan x="348.66">a</tspan><tspan x="356.61">G</tspan><tspan x="420.13">T</tspan><tspan x="428.07">T</tspan><tspan x="436.01">T</tspan><tspan x="443.95">G</tspan><tspan x="451.89">A</tspan><tspan x="459.83">A</tspan><tspan x="507.48">C</tspan><tspan x="515.42">C</tspan><tspan x="523.36">A</tspan><tspan x="531.30">A</tspan><tspan x="539.24">T</tspan></text>
<line x1="111.11" y1="508.00" x2="111.11" y2="518.70" stroke="#222" stroke-width="1.1"/>
<line x1="122.86" y1="508.00" x2="122.86" y2="518.70" stroke="#222" stroke-width="1.1"/>
<line x1="128.74" y1="508.00" x2="128.74" y2="518.70" stroke="#222" stroke-width="1.1"/>
<line x1="134.62" y1="508.00" x2="134.62" y2="518.70" stroke="#222" stroke-width="1.1"/>
<line x1="146.37" y1="508.00" x2="146.37" y2="518.70" stroke="#222" stroke-width="1.1"/>
<line x1="152.24" y1="508.00" x2="152.24" y2="518.70" stroke="#222" stroke-width="1.1"/>
<line x1="158.12" y1="508.00" x2="158.12" y2="518.70" stroke="#222" stroke-width="1.1"/>
<line x1="164.00" y1="508.00" x2="164.00" y2="518.70" stroke="#222" stroke-width="1.1"/>
<line x1="175.75" y1="508.00" x2="175.75" y2="518.70" stroke="#222" stroke-width="1.1"/>
<line x1="187.50" y1="508.00" x2="187.50" y2="518.70" stroke="#222" stroke-width="1.1"/>
<line x1="193.38" y1="508.00" x2="193.38" y2="518.70" stroke="#222" stroke-width="1.1"/>
<line x1="199.25" y1="508.00" x2="199.25" y2="518.70" stroke="#222" stroke-width="1.1"/>
<line x1="205.13" y1="508.00" x2="205.13" y2="518.70" stroke="#222" stroke-width="1.1"/>
<line x1="211.00" y1="508.00" x2="211.00" y2="518.70" stroke="#222" stroke-width="1.1"/>
<line x1="216.88" y1="508.00" x2="216.88" y2="518.70" stroke="#222" stroke-width="1.1"/>
<line x1="240.38" y1="508.00" x2="240.38" y2="518.70" stroke="#222" stroke-width="1.1"/>
<line x1="246.26" y1="508.00" x2="246.26" y2="518.70" stroke="#222" stroke-width="1.1"/>
<line x1="252.14" y1="508.00" x2="252.14" y2="518.70" stroke="#222" stroke-width="1.1"/>
<line x1="263.89" y1="508.00" x2="263.89" y2="518.70" stroke="#222" stroke-width="1.1"/>
<line x1="269.76" y1="508.00" x2="269.76" y2="518.70" stroke="#222" stroke-width="1.1"/>
<line x1="275.64" y1="508.00" x2="275.64" y2="518.70" stroke="#222" stroke-width="1.1"/>
<line x1="281.52" y1="508.00" x2="281.52" y2="518.70" stroke="#222" stroke-width="1.1"/>
<line x1="287.39" y1="508.00" x2="287.39" y2="518.70" stroke="#222" stroke-width="1.1"/>
<line x1="305.02" y1="508.00" x2="305.02" y2="518.70" stroke="#222" stroke-width="1.1"/>
<line x1="310.90" y1="508.00" x2="310.90" y2="518.70" stroke="#222" stroke-width="1.1"/>
<line x1="316.77" y1="508.00" x2="316.77" y2="518.70" stroke="#222" stroke-width="1.1"/>
<line x1="322.65" y1="508.00" x2="322.65" y2="518.70" stroke="#222" stroke-width="1.1"/>
<line x1="328.52" y1="508.00" x2="328.52" y2="518.70" stroke="#222" stroke-width="1.1"/>
<line x1="334.40" y1="508.00" x2="334.40" y2="518.70" stroke="#222" stroke-width="1.1"/>
<line x1="340.28" y1="508.00" x2="340.28" y2="518.70" stroke="#222" stroke-width="1.1"/>
<line x1="346.15" y1="508.00" x2="346.15" y2="518.70" stroke="#222" stroke-width="1.1"/>
<line x1="352.03" y1="508.00" x2="352.03" y2="518.70" stroke="#222" stroke-width="1.1"/>
<line x1="357.90" y1="508.00" x2="357.90" y2="518.70" stroke="#222" stroke-width="1.1"/>
<line x1="369.66" y1="508.00" x2="369.66" y2="518.70" stroke="#222" stroke-width="1.1"/>
<line x1="375.53" y1="508.00" x2="375.53" y2="518.70" stroke="#222" stroke-width="1.1"/>
<line x1="381.41" y1="508.00" x2="381.41" y2="518.70" stroke="#222" stroke-width="1.1"/>
<line x1="387.28" y1="508.00" x2="387.28" y2="518.70" stroke="#222" stroke-width="1.1"/>
<line x1="393.16" y1="508.00" x2="393.16" y2="518.70" stroke="#222" stroke-width="1.1"/>
<line x1="399.04" y1="508.00" x2="399.04" y2="518.70" stroke="#222" stroke-width="1.1"/>
<line x1="422.54" y1="508.00" x2="422.54" y2="518.70" stroke="#222" stroke-width="1.1"/>
<line x1="434.29" y1="508.00" x2="434.29" y2="518.70" stroke="#222" stroke-width="1.1"/>
<line x1="440.17" y1="508.00" x2="440.17" y2="518.70" stroke="#222" stroke-width="1.1"/>
<line x1="446.04" y1="508.00" x2="446.04" y2="518.70" stroke="#222" stroke-width="1.1"/>
<line x1="457.80" y1="508.00" x2="457.80" y2="518.70" stroke="#222" stroke-width="1.1"/>
<line x1="469.55" y1="508.00" x2="469.55" y2="518.70" stroke="#222" stroke-width="1.1"/>
<line x1="475.42" y1="508.00" x2="475.42" y2="518.70" stroke="#222" stroke-width="1.1"/>
<line x1="481.30" y1="508.00" x2="481.30" y2="518.70" stroke="#222" stroke-width="1.1"/>
<line x1="487.18" y1="508.00" x2="487.18" y2="518.70" stroke="#222" stroke-width="1.1"/>
<line x1="498.93" y1="508.00" x2="498.93" y2="518.70" stroke="#222" stroke-width="1.1"/>
<line x1="504.80" y1="508.00" x2="504.80" y2="518.70" stroke="#222" stroke-width="1.1"/>
<line x1="510.68" y1="508.00" x2="510.68" y2="518.70" stroke="#222" stroke-width="1.1"/>
<line x1="516.56" y1="508.00" x2="516.56" y2="518.70" stroke="#222" stroke-width="1.1"/>
<line x1="522.43" y1="508.00" x2="522.43" y2="518.70" stroke="#222" stroke-width="1.1"/>
<line x1="528.31" y1="508.00" x2="528.31" y2="518.70" stroke="#222" stroke-width="1.1"/>
<line x1="534.18" y1="508.00" x2="534.18" y2="518.70" stroke="#222" stroke-width="1.1"/>
<line x1="540.06" y1="508.00" x2="540.06" y2="518.70" stroke="#222" stroke-width="1.1"/>
<line x1="545.94" y1="508.00" x2="545.94" y2="518.70" stroke="#222" stroke-width="1.1"/>
<line x1="551.81" y1="508.00" x2="551.81" y2="518.70" stroke="#222" stroke-width="1.1"/>
<line x1="563.56" y1="508.00" x2="563.56" y2="518.70" stroke="#222" stroke-width="1.1"/>
<line x1="569.44" y1="508.00" x2="569.44" y2="518.70" stroke="#222" stroke-width="1.1"/>
<rect x="235.50" y="490.50" width="32.30" height="46.50" fill="none" stroke="#3a3a3a" stroke-width="1.0"/>
<rect x="308.20" y="490.50" width="35.40" height="46.50" fill="none" stroke="#3a3a3a" stroke-width="1.0"/>
<rect x="373.20" y="490.50" width="28.80" height="46.50" fill="none" stroke="#3a3a3a" stroke-width="1.0"/>
<text transform="translate(228.48,486.80) scale(0.831,1)" font-size="10.8" font-family='"Liberation Mono", monospace'>−50</text>
<text transform="translate(255.17,486.80) scale(0.850,1)" font-size="10.8" font-family='"Liberation Mono", monospace'>−46</text>
<text transform="translate(300.27,486.80) scale(0.847,1)" font-size="10.8" font-family='"Liberation Mono", monospace'>−39</text>
<text transform="translate(326.46,486.80) scale(0.864,1)" font-size="10.8" font-family='"Liberation Mono", monospace'>−34</text>
<text transform="translate(366.88,486.80) scale(0.836,1)" font-size="10.8" font-family='"Liberation Mono", monospace'>−29</text>
<text transform="translate(391.58,486.80) scale(0.838,1)" font-size="10.8" font-family='"Liberation Mono", monospace'>−25</text>
<text transform="translate(242.14,553.70) scale(0.750,1)" font-size="12" font-weight="bold">CDE</text>
<text transform="translate(315.31,553.70) scale(0.808,1)" font-size="12" font-weight="bold">CHR</text>
<text transform="translate(371.54,553.70) scale(0.756,1)" font-size="12" font-weight="bold">CCAAT</text>
<path d="M559.4,503.5 V488.6 H572.5" stroke="#222" stroke-width="1.1" fill="none"/>
<polygon points="571.50,485.80 580.60,488.70 571.50,491.60" fill="#111"/>
</svg>
</body></html>
